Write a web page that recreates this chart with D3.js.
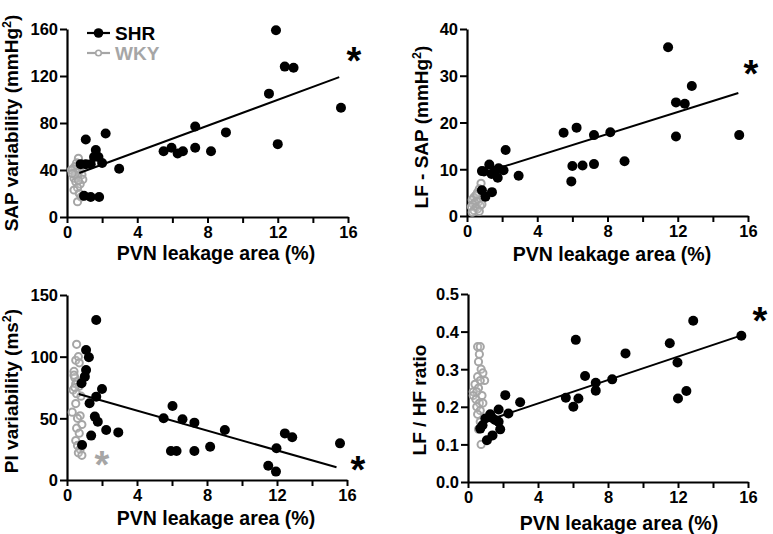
<!DOCTYPE html>
<html>
<head>
<meta charset="utf-8">
<script src="https://cdn.jsdelivr.net/npm/d3@7"></script>
<style>
  html, body { margin: 0; padding: 0; background: #fff; }
  svg { display: block; }
  text { font-family: "Liberation Sans", Arial, sans-serif; font-weight: bold; fill: #000; }
</style>
</head>
<body>
<svg id="chart" width="773" height="534"></svg>
<script>
// ---------------- DATA ----------------
const xTickValues = [0, 2, 4, 6, 8, 10, 12, 14, 16];
const xLabelText = "PVN leakage area (%)";
const seriesNames = ["SHR", "WKY"];

// Panel A: SAP variability (mmHg²)
const sapYTicks = [0, 40, 80, 120, 160];
const sapShrX = [11.9, 12.4, 12.9, 11.5, 15.6, 12.0, 7.3, 9.05, 7.3, 8.2, 5.5, 5.95, 6.3, 6.6, 2.2, 1.07, 2.97, 1.64, 1.54, 1.79, 0.78, 1.07, 1.35, 2.0, 0.97, 1.35, 1.83];
const sapShrY = [159, 128, 127, 105, 93, 62, 77, 72, 59, 56, 56, 59, 54, 56, 71, 66, 41, 57, 51, 51, 45, 45, 45, 46, 18, 17, 17];
const sapWkyX = [0.65, 0.55, 0.45, 0.35, 0.25, 0.5, 0.7, 0.85, 0.6, 0.4, 0.9, 0.5, 0.75, 0.6, 0.4, 0.7, 0.8, 0.6, 0.45, 0.8, 0.3, 0.65];
const sapWkyY = [50, 46, 43, 41, 40, 38, 39, 36, 35, 33, 32, 30, 28, 25, 23, 20, 17, 13, 36, 43, 37, 31];
const sapFitX = [0.7, 15.5];
const sapFitY = [37.5, 119];

// Panel B: LF - SAP (mmHg²)
const lfYTicks = [0, 10, 20, 30, 40];
const lfShrX = [11.45, 12.8, 11.9, 12.4, 11.9, 15.5, 5.5, 6.24, 7.23, 8.16, 8.97, 7.23, 6.58, 6.0, 5.94, 2.2, 2.94, 1.27, 1.8, 2.08, 0.97, 0.85, 1.6, 1.4, 1.75, 0.85, 1.42, 1.05];
const lfShrY = [36.1, 27.8, 24.3, 24.0, 17.0, 17.3, 17.8, 18.9, 17.3, 17.9, 11.7, 11.1, 10.8, 10.7, 7.4, 14.1, 8.6, 11.0, 10.2, 9.8, 9.5, 9.6, 9.7, 9.0, 8.2, 5.5, 5.1, 4.1];
const lfWkyX = [0.8, 0.7, 0.6, 0.5, 0.4, 0.3, 0.55, 0.65, 0.45, 0.35, 0.75, 0.25, 0.5, 0.6, 0.4, 0.7, 0.3, 0.85, 0.55];
const lfWkyY = [7.0, 5.8, 5.0, 4.4, 4.0, 3.5, 3.2, 3.0, 2.8, 2.5, 2.2, 2.0, 1.8, 1.5, 1.2, 1.0, 0.8, 2.5, 4.6];
const lfFitX = [1.0, 15.45];
const lfFitY = [9.3, 26.3];

// Panel C: PI variability (ms²)
const piYTicks = [0, 50, 100, 150];
const piShrX = [1.67, 1.09, 1.25, 1.09, 1.02, 0.83, 2.0, 1.67, 1.29, 1.59, 1.76, 2.24, 2.93, 1.38, 0.86, 5.52, 6.03, 6.6, 7.28, 9.02, 8.18, 5.94, 6.26, 7.28, 11.97, 12.45, 12.87, 15.6, 11.5, 11.94];
const piShrY = [129.7, 105.4, 99.5, 89.2, 83.8, 78.4, 73.8, 67.6, 62.2, 51.4, 47.3, 40.5, 38.6, 36, 28.4, 50, 60, 49.2, 46.5, 40.5, 27, 23.5, 23.5, 23.5, 25.7, 37.8, 34.6, 29.7, 11.6, 6.8];
const piWkyX = [0.55, 0.5, 0.65, 0.7, 0.4, 0.45, 0.6, 0.5, 0.7, 0.35, 0.55, 0.8, 0.5, 0.3, 0.75, 0.6, 0.85, 0.55, 0.7, 0.5, 0.6, 0.75, 0.65, 0.85, 0.4, 0.45];
const piWkyY = [110, 97, 100, 95, 88, 83, 80, 78, 76, 73, 70, 68, 62, 55, 52, 50, 45, 42, 38, 32, 28, 25, 22, 20, 85, 75];
const piFitX = [0.67, 15.4];
const piFitY = [69.7, 10.3];

// Panel D: LF / HF ratio
const ratioYTicks = [0, 0.1, 0.2, 0.3, 0.4, 0.5];
const ratioShrX = [12.87, 15.62, 11.53, 11.97, 12.0, 12.48, 6.16, 9.0, 6.69, 7.3, 7.3, 8.24, 5.59, 6.31, 6.02, 2.98, 2.13, 2.31, 1.75, 1.27, 0.83, 0.99, 1.38, 1.55, 1.84, 1.4, 1.08, 0.7, 1.75];
const ratioShrY = [0.429, 0.389, 0.369, 0.318, 0.222, 0.242, 0.378, 0.342, 0.282, 0.264, 0.243, 0.273, 0.224, 0.222, 0.200, 0.212, 0.231, 0.182, 0.193, 0.180, 0.151, 0.169, 0.17, 0.165, 0.140, 0.124, 0.111, 0.142, 0.16];
const ratioWkyX = [0.55, 0.7, 0.65, 0.6, 0.75, 0.85, 0.55, 0.95, 0.7, 0.4, 0.6, 0.3, 0.5, 0.8, 0.3, 0.45, 0.65, 0.85, 0.5, 0.7, 0.55, 0.7, 0.6, 0.75];
const ratioWkyY = [0.36, 0.36, 0.34, 0.32, 0.30, 0.29, 0.28, 0.27, 0.27, 0.26, 0.25, 0.24, 0.24, 0.23, 0.23, 0.22, 0.21, 0.21, 0.20, 0.19, 0.18, 0.16, 0.14, 0.10];
const ratioFitX = [0.8, 15.5];
const ratioFitY = [0.159, 0.388];

// ---------------- LAYOUT ----------------
const BLACK = "#000";
const GRAY = "#a6a6a6";

const panels = [
  { left: 67, right: 348, top: 29, bottom: 217, yMax: 160, yTicks: sapYTicks, fmt: d3.format("d"),
    shrX: sapShrX, shrY: sapShrY, wkyX: sapWkyX, wkyY: sapWkyY, fitX: sapFitX, fitY: sapFitY,
    yLabel: ["SAP variability  (mmHg", "2", ")"], yLabX: 18, yLabY: 123, xLabX: 216, xLabY: 260,
    stars: [{ x: 354, y: 53, c: BLACK }], legend: true },
  { left: 467, right: 748, top: 29, bottom: 216, yMax: 40, yTicks: lfYTicks, fmt: d3.format("d"),
    shrX: lfShrX, shrY: lfShrY, wkyX: lfWkyX, wkyY: lfWkyY, fitX: lfFitX, fitY: lfFitY,
    yLabel: ["LF - SAP (mmHg", "2", ")"], yLabX: 428, yLabY: 127, xLabX: 612, xLabY: 261,
    stars: [{ x: 751, y: 66, c: BLACK }] },
  { left: 67, right: 347, top: 295, bottom: 480, yMax: 150, yTicks: piYTicks, fmt: d3.format("d"),
    shrX: piShrX, shrY: piShrY, wkyX: piWkyX, wkyY: piWkyY, fitX: piFitX, fitY: piFitY,
    yLabel: ["PI  variability  (ms", "2", ")"], yLabX: 18, yLabY: 391, xLabX: 216, xLabY: 525,
    stars: [{ x: 102, y: 457, c: GRAY }, { x: 358, y: 462, c: BLACK }] },
  { left: 468, right: 748, top: 294, bottom: 482, yMax: 0.5, yTicks: ratioYTicks, fmt: d3.format(".1f"),
    shrX: ratioShrX, shrY: ratioShrY, wkyX: ratioWkyX, wkyY: ratioWkyY, fitX: ratioFitX, fitY: ratioFitY,
    yLabel: ["LF / HF  ratio"], yLabX: 426, yLabY: 400, xLabX: 619, xLabY: 530,
    stars: [{ x: 760, y: 313, c: BLACK }] }
];

const svg = d3.select("#chart");

panels.forEach(p => {
  const x = d3.scaleLinear().domain([0, 16]).range([p.left, p.right]);
  const y = d3.scaleLinear().domain([0, p.yMax]).range([p.bottom, p.top]);
  const g = svg.append("g");

  // axes
  const xAxis = d3.axisBottom(x).tickValues(xTickValues)
    .tickFormat(d => d % 4 === 0 ? d : "").tickSize(6).tickSizeOuter(0).tickPadding(3);
  const yAxis = d3.axisLeft(y).tickValues(p.yTicks).tickFormat(p.fmt)
    .tickSize(7).tickSizeOuter(0).tickPadding(2);

  const gx = g.append("g").attr("transform", `translate(0,${p.bottom})`).call(xAxis);
  const gy = g.append("g").attr("transform", `translate(${p.left},0)`).call(yAxis);
  [gx, gy].forEach(a => {
    a.select(".domain").attr("stroke", BLACK).attr("stroke-width", 2.2);
    a.selectAll(".tick line").attr("stroke", BLACK).attr("stroke-width", 2);
    a.selectAll(".tick text").style("font-size", "16.5px").style("font-weight", "bold")
      .style("font-family", '"Liberation Sans", Arial, sans-serif').attr("fill", BLACK);
  });
  gy.selectAll(".tick text").attr("dy", "0.36em");

  // WKY open circles
  const wky = p.wkyX.map((v, i) => [v, p.wkyY[i]]);
  g.append("g").selectAll("circle").data(wky).join("circle")
    .attr("cx", d => x(d[0])).attr("cy", d => y(d[1])).attr("r", 3.6)
    .attr("fill", "#fff").attr("fill-opacity", 0.15)
    .attr("stroke", GRAY).attr("stroke-width", 2);

  // SHR filled circles
  const shr = p.shrX.map((v, i) => [v, p.shrY[i]]);
  g.append("g").selectAll("circle").data(shr).join("circle")
    .attr("cx", d => x(d[0])).attr("cy", d => y(d[1])).attr("r", 5)
    .attr("fill", BLACK);

  // regression line
  const fit = p.fitX.map((v, i) => [v, p.fitY[i]]);
  g.append("path").datum(fit)
    .attr("d", d3.line().x(d => x(d[0])).y(d => y(d[1])))
    .attr("stroke", BLACK).attr("stroke-width", 2).attr("fill", "none");

  // y label
  const yl = g.append("text")
    .attr("transform", `translate(${p.yLabX},${p.yLabY}) rotate(-90)`)
    .attr("text-anchor", "middle").style("font-size", "19px");
  yl.append("tspan").text(p.yLabel[0]);
  if (p.yLabel.length > 1) {
    yl.append("tspan").text(p.yLabel[1]).style("font-size", "12.5px").attr("dy", "-0.6em");
    yl.append("tspan").text(p.yLabel[2]).attr("dy", "0.4em");
  }

  // x label
  g.append("text").attr("x", p.xLabX).attr("y", p.xLabY)
    .attr("text-anchor", "middle").style("font-size", "19.5px").text(xLabelText);

  // significance stars
  p.stars.forEach(s => {
    g.append("text").attr("x", s.x).attr("y", s.y + 21)
      .attr("text-anchor", "middle").style("font-size", "38px").style("font-weight", "bold")
      .attr("fill", s.c).style("fill", s.c).text("*");
  });

  // legend
  if (p.legend) {
    const lg = g.append("g");
    const items = [
      { name: seriesNames[0], c: BLACK, y: 33, filled: true },
      { name: seriesNames[1], c: GRAY, y: 53, filled: false }
    ];
    items.forEach(it => {
      lg.append("line").attr("x1", 87).attr("x2", 110).attr("y1", it.y).attr("y2", it.y)
        .attr("stroke", it.c).attr("stroke-width", 2.2);
      lg.append("circle").attr("cx", 98.5).attr("cy", it.y)
        .attr("r", it.filled ? 4.8 : 2.8)
        .attr("fill", it.filled ? BLACK : "#fff")
        .attr("stroke", it.c).attr("stroke-width", it.filled ? 0 : 1.6);
      lg.append("text").attr("x", 115).attr("y", it.y + 7)
        .style("font-size", "19px").style("fill", it.c).text(it.name);
    });
  }
});
</script>
</body>
</html>
